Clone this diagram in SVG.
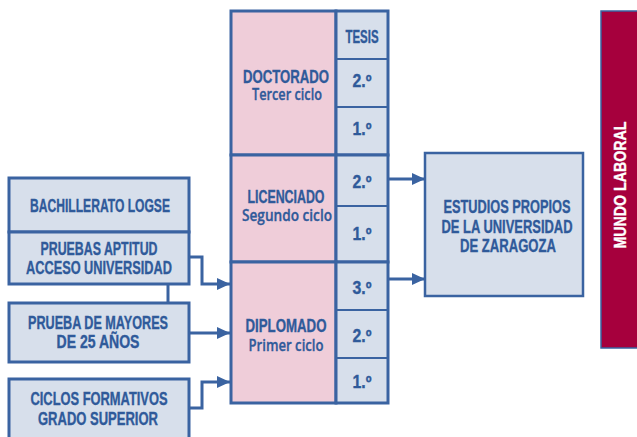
<svg xmlns="http://www.w3.org/2000/svg" width="637" height="437" viewBox="0 0 637 437">
<style>
.box{fill:#d7dfeb;stroke:#3a63a1;stroke-width:3}
.pink{fill:#efcdd9;stroke:#3a63a1;stroke-width:3}
.cell{fill:#d7dfeb;stroke:#3a63a1;stroke-width:3}
.div{stroke:#3a63a1;stroke-width:1.8;fill:none}
.t{font-family:"Liberation Sans",Arial,sans-serif;font-weight:bold;font-size:17.5px;fill:#2f5a9a;text-anchor:middle;stroke:#2f5a9a;stroke-width:0.35}
.s{font-family:"Open Sans","Liberation Sans",Arial,sans-serif;font-weight:600;font-size:16.5px}
.o{font-size:18px}
.w{fill:#ffffff;stroke:#ffffff}
.con{stroke:#3a63a1;stroke-width:3;fill:none;marker-end:url(#ah)}
</style>
<defs>
<marker id="ah" markerUnits="userSpaceOnUse" markerWidth="14" markerHeight="13" refX="13" refY="6" orient="auto">
<path d="M0,0 L13,6 L0,12 z" fill="#3a63a1"/>
</marker>
</defs>
<rect width="637" height="437" fill="#ffffff"/>

<g id="bachillerato">
<rect class="box" x="9" y="178" width="180" height="54"/>
<text class="t" x="100" y="212" textLength="140" lengthAdjust="spacingAndGlyphs">BACHILLERATO LOGSE</text>
</g>
<g id="pruebas-aptitud">
<rect class="box" x="9" y="232" width="180" height="52"/>
<text class="t" x="99" y="255" textLength="117" lengthAdjust="spacingAndGlyphs">PRUEBAS APTITUD</text>
<text class="t" x="99" y="274" textLength="146" lengthAdjust="spacingAndGlyphs">ACCESO UNIVERSIDAD</text>
</g>
<g id="prueba-mayores">
<rect class="box" x="9" y="303" width="180" height="59"/>
<text class="t" x="98" y="329" textLength="140" lengthAdjust="spacingAndGlyphs">PRUEBA DE MAYORES</text>
<text class="t" x="98" y="348" textLength="83" lengthAdjust="spacingAndGlyphs">DE 25 AÑOS</text>
</g>
<g id="ciclos">
<rect class="box" x="9" y="379" width="180" height="70"/>
<text class="t" x="99" y="405" textLength="137" lengthAdjust="spacingAndGlyphs">CICLOS FORMATIVOS</text>
<text class="t" x="98" y="425" textLength="120" lengthAdjust="spacingAndGlyphs">GRADO SUPERIOR</text>
</g>

<g id="doctorado">
<rect class="pink" x="231" y="11" width="105" height="144"/>
<rect class="cell" x="336" y="11" width="52" height="144"/>
<line class="div" x1="336" y1="59" x2="388" y2="59"/>
<line class="div" x1="336" y1="107" x2="388" y2="107"/>
<text class="t" x="286" y="83" textLength="86" lengthAdjust="spacingAndGlyphs">DOCTORADO</text>
<text class="t s" x="287" y="100" textLength="70" lengthAdjust="spacingAndGlyphs">Tercer ciclo</text>
<text class="t" x="362" y="43" textLength="33" lengthAdjust="spacingAndGlyphs">TESIS</text>
<text class="t o" x="362" y="87" textLength="19" lengthAdjust="spacingAndGlyphs">2.º</text>
<text class="t o" x="362" y="135" textLength="19" lengthAdjust="spacingAndGlyphs">1.º</text>
</g>
<g id="licenciado">
<rect class="pink" x="231" y="155" width="105" height="107"/>
<rect class="cell" x="336" y="155" width="52" height="107"/>
<line class="div" x1="336" y1="206" x2="388" y2="206"/>
<text class="t" x="286" y="203" textLength="77" lengthAdjust="spacingAndGlyphs">LICENCIADO</text>
<text class="t s" x="287" y="221" textLength="90" lengthAdjust="spacingAndGlyphs">Segundo ciclo</text>
<text class="t o" x="362" y="188" textLength="19" lengthAdjust="spacingAndGlyphs">2.º</text>
<text class="t o" x="362" y="240" textLength="19" lengthAdjust="spacingAndGlyphs">1.º</text>
</g>
<g id="diplomado">
<rect class="pink" x="231" y="262" width="105" height="141"/>
<rect class="cell" x="336" y="262" width="52" height="141"/>
<line class="div" x1="336" y1="310" x2="388" y2="310"/>
<line class="div" x1="336" y1="358" x2="388" y2="358"/>
<text class="t" x="286" y="332" textLength="81" lengthAdjust="spacingAndGlyphs">DIPLOMADO</text>
<text class="t s" x="286" y="351" textLength="75" lengthAdjust="spacingAndGlyphs">Primer ciclo</text>
<text class="t o" x="362" y="294" textLength="19" lengthAdjust="spacingAndGlyphs">3.º</text>
<text class="t o" x="362" y="342" textLength="19" lengthAdjust="spacingAndGlyphs">2.º</text>
<text class="t o" x="362" y="388" textLength="19" lengthAdjust="spacingAndGlyphs">1.º</text>
</g>

<g id="estudios-propios">
<rect class="box" x="425" y="153" width="158" height="143" style="stroke-width:2.5"/>
<text class="t" x="507" y="213" textLength="127" lengthAdjust="spacingAndGlyphs">ESTUDIOS PROPIOS</text>
<text class="t" x="507" y="233" textLength="131" lengthAdjust="spacingAndGlyphs">DE LA UNIVERSIDAD</text>
<text class="t" x="508" y="252" textLength="96" lengthAdjust="spacingAndGlyphs">DE ZARAGOZA</text>
</g>

<g id="mundo-laboral">
<rect x="601" y="11" width="40" height="337" fill="#a6003d" stroke="#3a63a1" stroke-width="1.5"/>
<text class="t w" transform="translate(626,185) rotate(-90)" x="0" y="0" textLength="127" lengthAdjust="spacingAndGlyphs" style="font-size:17px">MUNDO LABORAL</text>
</g>

<g id="connectors">
<line x1="168" y1="284" x2="168" y2="303" stroke="#3a63a1" stroke-width="3"/>
<path class="con" d="M189,257 H202 V284 H230"/>
<path class="con" d="M189,333 H230"/>
<path class="con" d="M189,408 H202 V382 H230"/>
<path class="con" d="M388,179 H425"/>
<path class="con" d="M388,279 H425"/>
</g>
</svg>
